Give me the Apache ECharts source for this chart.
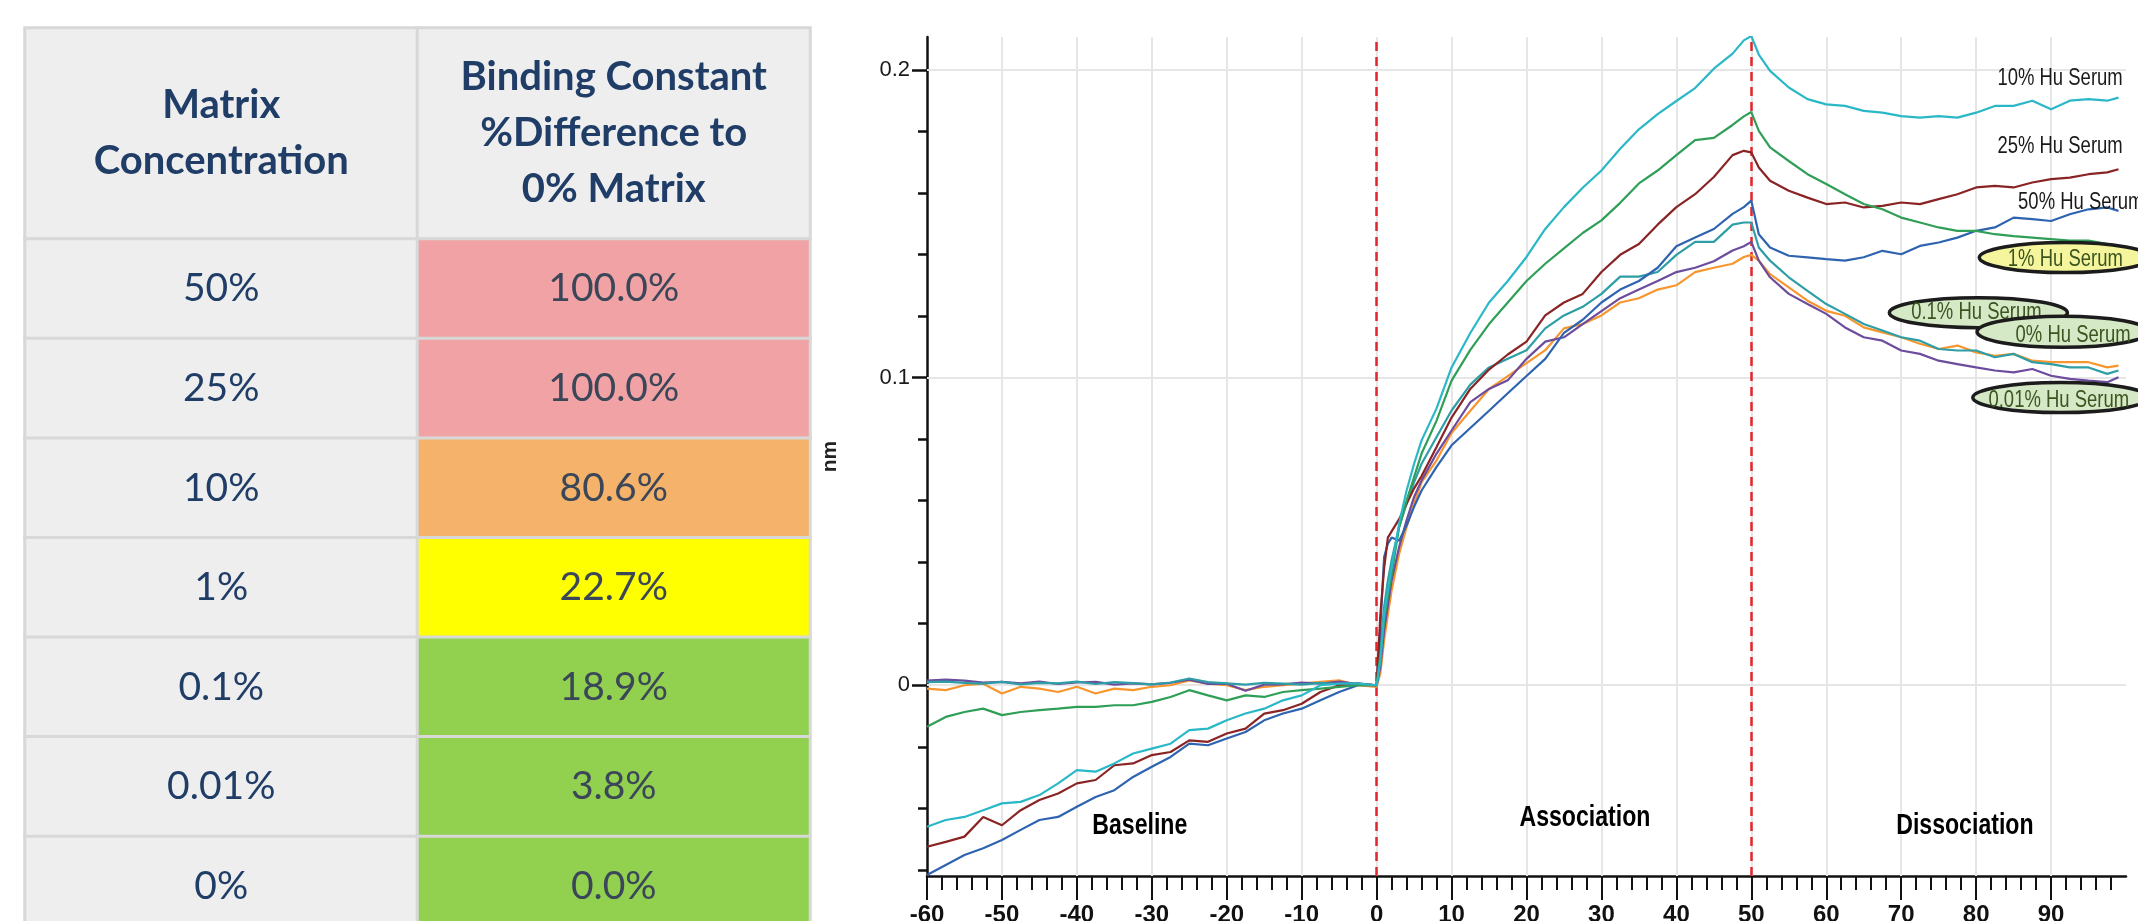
<!DOCTYPE html>
<html>
<head>
<meta charset="utf-8">
<title>Matrix tolerance – binding kinetics</title>
<script src="https://cdn.jsdelivr.net/npm/echarts@6.0.0/dist/echarts.min.js"></script>
<style>
  html, body { margin: 0; padding: 0; background: #ffffff; }
  #chart { width: 2138px; height: 921px; }
</style>
</head>
<body>
<div id="chart"></div>
<script>
// ---------- Table data ----------
const tableHeaders = ['Matrix\nConcentration', 'Binding Constant\n%Difference to\n0% Matrix'];
const matrixLevels = ['50%', '25%', '10%', '1%', '0.1%', '0.01%', '0%'];
const bindingDiffPct = [100.0, 100.0, 80.6, 22.7, 18.9, 3.8, 0.0];

// ---------- Sensorgram data (time in s, response in nm) ----------
const timeSec = [
  -60, -57.5, -55, -52.5, -50, -47.5, -45, -42.5, -40, -37.5, -35, -32.5, -30, -27.5, -25, -22.5, -20, -17.5, -15, -12.5, -10, -7.5, -5, -2.5, 0,
  0.5, 1, 1.5, 2, 3, 4, 5, 6, 8, 10, 12.5, 15, 17.5, 20, 22.5, 25, 27.5, 30, 32.5, 35, 37.5, 40, 42.5, 45, 47.5, 49, 50,
  51, 52.5, 55, 57.5, 60, 62.5, 65, 67.5, 70, 72.5, 75, 77.5, 80, 82.5, 85, 87.5, 90, 92.5, 95, 97.5, 99
];

const hu10 = [
  -0.046, -0.0438, -0.0428, -0.0406, -0.0384, -0.0379, -0.0357, -0.0319, -0.0276, -0.0281, -0.0254, -0.0222, -0.0206, -0.019, -0.0146, -0.0141, -0.0114, -0.0092, -0.0076, -0.0049, -0.0033, 0, 0.0005, 0.0005, 0,
  0.008, 0.023, 0.031, 0.0384, 0.0525, 0.0633, 0.072, 0.0796, 0.09, 0.1033, 0.1145, 0.1244, 0.1314, 0.1392, 0.1483, 0.1554, 0.1617, 0.1673, 0.1744, 0.1807, 0.1856, 0.1899, 0.1941, 0.2004, 0.2053, 0.2096, 0.211,
  0.205, 0.1997, 0.1943, 0.1905, 0.1888, 0.1883, 0.1867, 0.1861, 0.185, 0.1845, 0.185, 0.1845, 0.1861, 0.1883, 0.1883, 0.19, 0.1872, 0.19, 0.1905, 0.19, 0.191
];
const hu25 = [
  -0.0525, -0.0509, -0.0492, -0.0428, -0.0455, -0.0406, -0.0373, -0.0352, -0.0319, -0.0308, -0.026, -0.0254, -0.0227, -0.0217, -0.0179, -0.0184, -0.0157, -0.0141, -0.0092, -0.0081, -0.006, -0.0022, 0, 0.0005, 0,
  0.023, 0.038, 0.048, 0.05, 0.054, 0.059, 0.064, 0.068, 0.0774, 0.087, 0.0963, 0.1026, 0.1075, 0.1117, 0.1202, 0.1244, 0.1272, 0.1343, 0.1399, 0.1434, 0.1497, 0.1554, 0.1596, 0.1652, 0.1723, 0.1737, 0.1732,
  0.1683, 0.164, 0.1607, 0.1585, 0.1564, 0.1569, 0.1553, 0.1558, 0.1569, 0.1564, 0.158, 0.1596, 0.1618, 0.1623, 0.1618, 0.1634, 0.1645, 0.165, 0.1661, 0.1667, 0.1677
];
const hu50 = [
  -0.0617, -0.0584, -0.0552, -0.053, -0.0503, -0.047, -0.0438, -0.0428, -0.0395, -0.0363, -0.0341, -0.0298, -0.0265, -0.0233, -0.019, -0.0195, -0.0173, -0.0152, -0.0114, -0.0092, -0.0076, -0.0049, -0.0022, 0, 0,
  0.019, 0.0417, 0.046, 0.048, 0.047, 0.052, 0.058, 0.0633, 0.071, 0.078, 0.0836, 0.0892, 0.0949, 0.1005, 0.1061, 0.1145, 0.1188, 0.1244, 0.1286, 0.1314, 0.1357, 0.1427, 0.1455, 0.1483, 0.1532, 0.1554, 0.1575,
  0.1466, 0.1423, 0.1396, 0.1391, 0.1385, 0.138, 0.1391, 0.1412, 0.1401, 0.1428, 0.1439, 0.1455, 0.1477, 0.1488, 0.152, 0.1515, 0.1509, 0.1531, 0.1547, 0.1553, 0.1542
];
const hu1 = [
  -0.0135, -0.0103, -0.0087, -0.0076, -0.0097, -0.0087, -0.0081, -0.0076, -0.007, -0.007, -0.0065, -0.0065, -0.0054, -0.0038, -0.0016, -0.0033, -0.0049, -0.0033, -0.0038, -0.0022, -0.0016, -0.0011, -0.0005, 0, 0,
  0.01, 0.021, 0.029, 0.036, 0.0514, 0.06, 0.0677, 0.0753, 0.086, 0.099, 0.109, 0.1174, 0.1244, 0.1314, 0.137, 0.142, 0.147, 0.1511, 0.1568, 0.1631, 0.1673, 0.1723, 0.1772, 0.1779, 0.1821, 0.1849, 0.1863,
  0.1802, 0.1748, 0.1704, 0.1661, 0.1629, 0.1596, 0.1564, 0.1547, 0.152, 0.1504, 0.1488, 0.1477, 0.1477, 0.1466, 0.146, 0.1455, 0.145, 0.1445, 0.1445, 0.1434, 0.1423
];
const hu01 = [
  0.001, 0.0012, 0.0008, 0.0005, 0.0011, 0.0003, 0.0008, 0.0006, 0.0012, 0.0004, 0.001, 0.0007, 0.0003, 0.0009, 0.0022, 0.001, 0.0006, 0.0002, 0.0008, 0.0005, 0.0002, 0.0008, 0.0003, 0.0006, 0,
  0.012, 0.0254, 0.034, 0.0406, 0.0514, 0.059, 0.066, 0.072, 0.0807, 0.0893, 0.0977, 0.1033, 0.1061, 0.1089, 0.116, 0.1202, 0.123, 0.1272, 0.1328, 0.1328, 0.1343, 0.1399, 0.1441, 0.1441, 0.1497, 0.1504, 0.1504,
  0.1423, 0.138, 0.1326, 0.1282, 0.1239, 0.1207, 0.1174, 0.1153, 0.1131, 0.112, 0.1093, 0.1088, 0.1088, 0.1066, 0.1077, 0.105, 0.1044, 0.1033, 0.1033, 0.1012, 0.1023
];
const hu001 = [
  0.0015, 0.0018, 0.0015, 0.0009, 0.0011, 0.0006, 0.0012, 0.0004, 0.0009, 0.0011, 0.0002, 0.0006, 0.0003, 0.0008, 0.0018, 0.0004, 0.0005, -0.0018, 0.0002, 0.0003, 0.0009, 0.0005, 0.0012, 0.0004, 0,
  0.006, 0.0179, 0.026, 0.034, 0.0449, 0.0536, 0.0612, 0.0666, 0.0753, 0.0828, 0.092, 0.0963, 0.0991, 0.1061, 0.1117, 0.1131, 0.1174, 0.1216, 0.1258, 0.1286, 0.1314, 0.1343, 0.1357, 0.1378, 0.1413, 0.1427, 0.1441,
  0.138, 0.1326, 0.1272, 0.1239, 0.1207, 0.1163, 0.1131, 0.112, 0.1088, 0.1077, 0.1055, 0.1044, 0.1033, 0.1023, 0.1017, 0.1028, 0.1006, 0.0996, 0.099, 0.0985, 0.1001
];
const hu0 = [
  -0.0011, -0.0016, 0, 0.0005, -0.0027, -0.0005, -0.0011, -0.0022, -0.0005, -0.0027, -0.0011, -0.0016, -0.0005, 0, 0.0016, 0.0005, 0, -0.0016, -0.0005, 0, 0.0005, 0.0011, 0.0016, 0, -0.0005,
  0.004, 0.0146, 0.023, 0.0308, 0.0427, 0.0514, 0.059, 0.066, 0.0731, 0.082, 0.0892, 0.0963, 0.1005, 0.1047, 0.1089, 0.116, 0.1174, 0.1202, 0.1244, 0.1258, 0.1286, 0.13, 0.1343, 0.1357, 0.137, 0.1392, 0.1399,
  0.138, 0.1336, 0.1293, 0.125, 0.1217, 0.1201, 0.1163, 0.1147, 0.1131, 0.111, 0.1093, 0.1104, 0.1082, 0.1071, 0.1077, 0.1055, 0.105, 0.105, 0.105, 0.1033, 0.1039
];

// Axis ticks
const xMajorTicks = [-60, -50, -40, -30, -20, -10, 0, 10, 20, 30, 40, 50, 60, 70, 80, 90];
const xGridTicks = [-50, -40, -30, -20, -10, 0, 10, 20, 30, 40, 50, 60, 70, 80, 90];
const yMajorTicks = [0, 0.1, 0.2];
const yMinorTicks = [-0.06, -0.04, -0.02, 0.02, 0.04, 0.06, 0.08, 0.12, 0.14, 0.16, 0.18];
const phaseBoundaries = [0, 50];

// ---------- Styles ----------
const sansFont = "'Liberation Sans', Arial, sans-serif";
const tableFont = "Lato, 'Noto Sans', sans-serif";
const cellGrey = '#eeeeee';
const cellBorder = '#d8d8d8';
const squeeze = 0.77;   // horizontal squeeze of the chart lettering

function diffFill(v) {
  if (v >= 90) return '#f0a2a5';
  if (v >= 50) return '#f4b26b';
  if (v >= 20) return '#ffff00';
  return '#92d050';
}

const curves = [
  { name: '0% Hu Serum',    values: hu0,   color: '#f7962f' },
  { name: '0.01% Hu Serum', values: hu001, color: '#6c4c9c' },
  { name: '0.1% Hu Serum',  values: hu01,  color: '#2d9ea6' },
  { name: '50% Hu Serum',   values: hu50,  color: '#2e63b0' },
  { name: '25% Hu Serum',   values: hu25,  color: '#8a2424' },
  { name: '1% Hu Serum',    values: hu1,   color: '#2f9f57' },
  { name: '10% Hu Serum',   values: hu10,  color: '#2ab8c8' }
];

// Curve name tags at the right end of the traces
const plainTags = [
  { text: '10% Hu Serum', at: [91.2, 0.1974], align: 'center' },
  { text: '25% Hu Serum', at: [91.2, 0.175],  align: 'center' },
  { text: '50% Hu Serum', at: [85.6, 0.1571], align: 'left' }
];
const ringedTags = [
  { text: '1% Hu Serum',    at: [91.9, 0.139],  radii: [86, 15],   fill: '#f4f59c', offset: [0, 2] },
  { text: '0.1% Hu Serum',  at: [80.3, 0.1211], radii: [89, 15],   fill: '#d6e9c6', offset: [-2, 0] },
  { text: '0% Hu Serum',    at: [91.6, 0.1149], radii: [86, 15.5], fill: '#d6e9c6', offset: [10, 4] },
  { text: '0.01% Hu Serum', at: [91.3, 0.0935], radii: [88, 15],   fill: '#d6e9c6', offset: [-2, 3] }
];
const phaseTags = [
  { text: 'Baseline',     at: [-31.6, -0.0455] },
  { text: 'Association',  at: [27.8, -0.0432] },
  { text: 'Dissociation', at: [78.5, -0.0455] }
];

function squeezedText(x, y, text, font, fill, align) {
  return {
    type: 'text', x: x, y: y, scaleX: squeeze, scaleY: 1,
    style: { text: text, font: font, fill: fill, align: align || 'center', verticalAlign: 'middle' }
  };
}

// ---------- Table cells ----------
const headerCells = tableHeaders.map((t, c) => ({
  value: [c, 0, 0],
  itemStyle: { color: cellGrey },
  label: { formatter: t }
}));
const bodyCells = [];
matrixLevels.forEach((lvl, r) => {
  bodyCells.push({
    value: [0, r, 0],
    itemStyle: { color: cellGrey },
    label: { formatter: lvl, color: '#1f3d66' }
  });
  bodyCells.push({
    value: [1, r, bindingDiffPct[r]],
    itemStyle: { color: diffFill(bindingDiffPct[r]) },
    label: { formatter: bindingDiffPct[r].toFixed(1) + '%', color: '#3b4658' }
  });
});

// ---------- Series ----------
const series = [];

// light reference grid
series.push({
  type: 'line', xAxisIndex: 0, yAxisIndex: 0, z: 1,
  data: [[-60, 0]], symbol: 'none', lineStyle: { width: 0 }, silent: true,
  markLine: {
    silent: true, symbol: ['none', 'none'], label: { show: false }, animation: false,
    lineStyle: { color: '#e6e6e6', width: 2, type: 'solid' },
    data: xGridTicks.map(v => ({ xAxis: v })).concat(yMajorTicks.map(v => ({ yAxis: v })))
  }
});

curves.forEach((c, k) => {
  series.push({
    type: 'line', name: c.name, xAxisIndex: 0, yAxisIndex: 0, z: 5 + k,
    data: timeSec.map((t, i) => [t, c.values[i]]),
    symbol: 'none', showSymbol: false, smooth: false,
    lineStyle: { color: c.color, width: 2.2 }, silent: true
  });
});

// phase boundaries
series.push({
  type: 'line', xAxisIndex: 0, yAxisIndex: 0, z: 14,
  data: [[-60, 0]], symbol: 'none', lineStyle: { width: 0 }, silent: true,
  markLine: {
    silent: true, symbol: ['none', 'none'], label: { show: false }, animation: false,
    lineStyle: { color: '#e3262b', width: 2.5, type: [9, 6] },
    data: phaseBoundaries.map(v => ({ xAxis: v }))
  }
});

// phase names
series.push({
  type: 'custom', xAxisIndex: 0, yAxisIndex: 0, z: 15, silent: true, clip: false,
  data: phaseTags.map(p => p.at),
  renderItem: function (params, api) {
    const p = api.coord([api.value(0), api.value(1)]);
    return squeezedText(p[0], p[1], phaseTags[params.dataIndex].text,
      'bold 30px ' + sansFont, '#000000', 'center');
  }
});

// plain curve names
series.push({
  type: 'custom', xAxisIndex: 0, yAxisIndex: 0, z: 16, silent: true, clip: false,
  data: plainTags.map(p => p.at),
  renderItem: function (params, api) {
    const t = plainTags[params.dataIndex];
    const p = api.coord([api.value(0), api.value(1)]);
    return squeezedText(p[0], p[1], t.text, '24px ' + sansFont, '#1a1a1a', t.align);
  }
});

// ringed curve names (later rings overlap earlier ones)
series.push({
  type: 'custom', xAxisIndex: 0, yAxisIndex: 0, z: 20, silent: true, clip: false,
  data: ringedTags.map(p => p.at),
  renderItem: function (params, api) {
    const t = ringedTags[params.dataIndex];
    const p = api.coord([api.value(0), api.value(1)]);
    return {
      type: 'group',
      children: [
        {
          type: 'ellipse',
          shape: { cx: p[0], cy: p[1], rx: t.radii[0], ry: t.radii[1] },
          style: { fill: t.fill, stroke: '#1c1c1c', lineWidth: 3.5 }
        },
        squeezedText(p[0] + t.offset[0], p[1] + t.offset[1], t.text,
          '24px ' + sansFont, '#3b5420', 'center')
      ]
    };
  }
});

// table
series.push({
  type: 'heatmap', xAxisIndex: 1, yAxisIndex: 2, silent: true,
  data: headerCells,
  itemStyle: { borderColor: cellBorder, borderWidth: 3 },
  emphasis: { disabled: true },
  label: {
    show: true, color: '#1f3d66', fontFamily: tableFont, fontWeight: 'bold',
    fontSize: 40, lineHeight: 56, align: 'center'
  }
});
series.push({
  type: 'heatmap', xAxisIndex: 2, yAxisIndex: 3, silent: true,
  data: bodyCells,
  itemStyle: { borderColor: cellBorder, borderWidth: 3 },
  emphasis: { disabled: true },
  label: { show: true, fontFamily: tableFont, fontSize: 39 }
});

const axisBlack = { color: '#111111', width: 2.5 };

const option = {
  animation: false,
  backgroundColor: '#ffffff',
  grid: [
    { left: 927, right: 12, top: 37, bottom: 45, outerBoundsMode: 'none', containLabel: false },
    { left: 25, top: 28, width: 785, height: 211, outerBoundsMode: 'none', containLabel: false },
    { left: 25, top: 239, width: 785, height: 697, outerBoundsMode: 'none', containLabel: false }
  ],
  xAxis: [
    {
      type: 'value', gridIndex: 0, min: -60, max: 100, interval: 10,
      axisLine: { show: true, onZero: false, lineStyle: axisBlack },
      axisTick: { show: true, customValues: xMajorTicks, length: 24, lineStyle: { color: '#111111', width: 2 } },
      minorTick: { show: true, splitNumber: 5, length: 14, lineStyle: { color: '#111111', width: 2 } },
      axisLabel: {
        customValues: xMajorTicks, margin: 27, color: '#111111',
        fontFamily: sansFont, fontWeight: 'bold', fontSize: 24
      },
      splitLine: { show: false }, minorSplitLine: { show: false }
    },
    { type: 'category', gridIndex: 1, data: ['c0', 'c1'], show: false },
    { type: 'category', gridIndex: 2, data: ['c0', 'c1'], show: false }
  ],
  yAxis: [
    {
      type: 'value', gridIndex: 0, min: -0.062, max: 0.2107, position: 'left',
      name: 'nm', nameLocation: 'middle', nameGap: 86, nameRotate: 90,
      nameTextStyle: { fontFamily: sansFont, fontWeight: 'bold', fontSize: 21, color: '#222222' },
      axisLine: { show: true, onZero: false, lineStyle: axisBlack },
      axisTick: { show: true, customValues: yMajorTicks, length: 15, lineStyle: { color: '#111111', width: 2.5 } },
      axisLabel: {
        customValues: yMajorTicks, margin: 17, color: '#1a1a1a',
        fontFamily: sansFont, fontSize: 22
      },
      splitLine: { show: false }
    },
    {
      type: 'value', gridIndex: 0, min: -0.062, max: 0.2107, position: 'left', offset: 0,
      axisLine: { show: false, onZero: false },
      axisTick: { show: true, customValues: yMinorTicks, length: 9, lineStyle: { color: '#111111', width: 2.5 } },
      axisLabel: { show: false },
      splitLine: { show: false }
    },
    { type: 'category', gridIndex: 1, data: ['h'], show: false },
    { type: 'category', gridIndex: 2, data: matrixLevels, inverse: true, show: false }
  ],
  series: series
};

const chart = echarts.init(document.getElementById('chart'), null, { renderer: 'canvas' });
chart.setOption(option);
</script>
</body>
</html>
